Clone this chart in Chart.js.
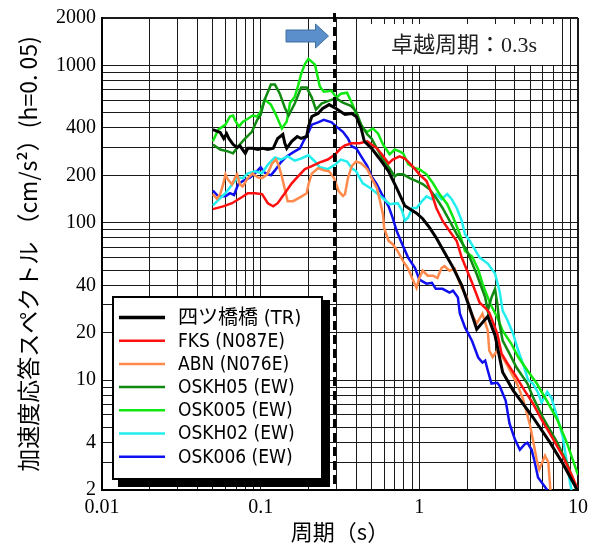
<!DOCTYPE html>
<html><head><meta charset="utf-8">
<script src="https://cdn.jsdelivr.net/npm/chart.js@4.4.1/dist/chart.umd.min.js"></script>
<style>html,body{margin:0;padding:0;background:#fff;}#wrap{width:598px;height:550px;}</style>
</head><body><div id="wrap"><canvas id="c" width="598" height="550"></canvas></div>
<script>
// ---- tick values / labels ----
const xTickValues = [0.01,0.02,0.03,0.04,0.05,0.06,0.07,0.08,0.09,0.1,0.2,0.3,0.4,0.5,0.6,0.7,0.8,0.9,1,2,3,4,5,6,7,8,9,10];
const xTickLabels = [0.01,0.1,1,10];
const yTickValues = [2,3,4,5,6,7,8,9,10,20,30,40,50,60,70,80,90,100,200,300,400,500,600,700,800,900,1000,2000];
const yTickLabels = [2,4,10,20,40,100,200,400,1000,2000];

// ---- series names / colours ----
const seriesNames = ['四ツ橋橋 (TR)','FKS (N087E)','ABN (N076E)','OSKH05 (EW)','OSK005 (EW)','OSKH02 (EW)','OSK006 (EW)'];
const seriesColors = ['#000000','#ff1010','#ff8a4c','#118a11','#11e811','#22eeee','#1010ee'];

// ---- series data: [period (s), Sa (cm/s^2)] ----
const seriesTR = [[0.05,390],[0.0556,375],[0.0585,343],[0.061,368],[0.063,343],[0.067,315],[0.071,300],[0.074,308],[0.08,276],[0.083,297],[0.089,297],[0.096,292],[0.103,297],[0.111,292],[0.12,297],[0.128,343],[0.138,364],[0.142,320],[0.146,297],[0.157,329],[0.17,353],[0.18,343],[0.195,353],[0.2,408],[0.21,473],[0.23,495],[0.245,530],[0.27,563],[0.3,530],[0.34,487],[0.375,495],[0.4,473],[0.43,397],[0.45,329],[0.5,297],[0.56,256],[0.64,212],[0.72,166],[0.81,128],[0.96,115],[1.05,106],[1.16,93],[1.28,80],[1.4,68],[1.63,52],[1.85,40],[2.08,28.6],[2.3,21],[2.7,25.4],[3.0,19.2],[3.2,14],[3.35,11.2],[3.9,8.6],[5.2,5.8],[6.7,3.97],[8.0,2.96],[9.9,2.0]];
const seriesFKS = [[0.05,122],[0.058,127],[0.066,133],[0.076,145],[0.083,154],[0.092,154],[0.102,152],[0.111,133],[0.12,127],[0.128,133],[0.142,154],[0.157,178],[0.172,197],[0.19,219],[0.21,229],[0.236,242],[0.265,252],[0.295,272],[0.32,297],[0.34,310],[0.375,320],[0.42,320],[0.47,329],[0.5,314],[0.54,297],[0.58,272],[0.64,238],[0.68,252],[0.75,264],[0.81,256],[0.87,238],[0.94,219],[1.0,203],[1.11,184],[1.2,152],[1.28,124],[1.4,103],[1.55,88.5],[1.72,76.5],[1.85,60],[2.15,41.5],[2.4,31],[2.6,28.8],[2.76,26.8],[3.1,19.7],[3.3,14.7],[3.6,12.7],[4.1,10.4],[4.6,8.6],[5.2,7.1],[5.9,5.6],[6.8,4.4],[8.0,3.3],[9.2,2.45],[10,2.0]];
const seriesABN = [[0.05,152],[0.053,142],[0.0556,152],[0.058,175],[0.06,203],[0.062,189],[0.066,175],[0.069,194],[0.071,203],[0.074,175],[0.077,170],[0.083,192],[0.089,205],[0.096,194],[0.102,192],[0.11,203],[0.118,238],[0.125,252],[0.13,230],[0.136,197],[0.142,163],[0.148,137],[0.16,137],[0.177,145],[0.195,154],[0.2,175],[0.21,205],[0.23,222],[0.25,215],[0.27,212],[0.29,192],[0.31,159],[0.33,148],[0.34,152],[0.355,192],[0.375,229],[0.4,245],[0.43,238],[0.47,219],[0.5,192],[0.54,166],[0.56,143],[0.59,113],[0.6,93],[0.64,76.5],[0.68,73],[0.73,66],[0.79,57],[0.85,51],[0.9,44.5],[0.96,38.5],[1.0,44.5],[1.05,49.5],[1.13,46],[1.22,46],[1.3,44.5],[1.38,51.5],[1.44,53],[1.55,49.5],[1.67,51],[1.75,44.5],[1.85,38.5],[2.0,33.5],[2.08,27.6],[2.3,22.9],[2.5,26.4],[2.7,20.6],[2.76,15.4],[2.9,14],[3.1,15.4],[3.3,14.3],[3.6,12.3],[4.1,9.6],[4.5,7.6],[5.0,5.1],[5.5,3.1],[5.7,2.7],[6.2,3.3],[6.5,3.0],[6.7,2.0]];
const seriesOSKH05 = [[0.05,314],[0.0556,292],[0.062,284],[0.067,276],[0.072,305],[0.08,343],[0.088,378],[0.095,450],[0.1,484],[0.106,605],[0.116,755],[0.123,755],[0.132,661],[0.142,538],[0.15,480],[0.164,572],[0.18,722],[0.195,722],[0.21,624],[0.223,524],[0.242,572],[0.27,597],[0.3,616],[0.33,580],[0.37,554],[0.4,508],[0.43,420],[0.47,364],[0.5,343],[0.54,297],[0.59,252],[0.65,221],[0.7,197],[0.73,203],[0.79,203],[0.87,192],[0.96,184],[1.05,176],[1.16,163],[1.28,143],[1.4,124],[1.55,103],[1.72,84.5],[2.0,66],[2.3,47],[2.6,33.5],[2.7,27.6],[2.85,33.5],[3.0,38],[3.1,30.5],[3.2,22.8],[3.35,17.8],[3.7,14.7],[4.1,12],[4.8,9.5],[5.2,7.8],[6.0,5.8],[7.4,4.0],[8.5,2.98],[9.8,2.0]];
const seriesOSK005 = [[0.05,329],[0.054,390],[0.06,420],[0.064,473],[0.067,480],[0.069,447],[0.073,408],[0.077,437],[0.083,458],[0.089,480],[0.095,473],[0.1,508],[0.106,605],[0.116,563],[0.125,484],[0.136,397],[0.146,440],[0.153,576],[0.164,632],[0.172,741],[0.18,883],[0.19,1020],[0.2,1100],[0.22,1010],[0.236,733],[0.25,680],[0.28,690],[0.3,624],[0.32,660],[0.35,670],[0.38,563],[0.41,458],[0.44,397],[0.47,378],[0.51,397],[0.55,368],[0.59,314],[0.65,272],[0.7,292],[0.75,284],[0.79,276],[0.85,236],[0.94,222],[1.0,219],[1.11,203],[1.22,178],[1.34,152],[1.5,131],[1.64,107],[1.8,84.5],[1.94,66],[2.15,61],[2.35,50.5],[2.5,41],[2.8,30.5],[3.1,25],[3.35,20.6],[3.8,17],[4.2,14],[4.8,11.5],[5.5,9.5],[6.3,7.5],[7.4,5.6],[8.5,4.0],[10,2.5]];
const seriesOSKH02 = [[0.05,129],[0.054,139],[0.06,154],[0.066,175],[0.072,194],[0.077,192],[0.083,206],[0.092,212],[0.102,206],[0.111,234],[0.123,260],[0.134,252],[0.148,264],[0.164,248],[0.18,256],[0.2,268],[0.22,245],[0.236,225],[0.265,219],[0.295,234],[0.32,252],[0.35,245],[0.375,222],[0.4,212],[0.44,178],[0.49,166],[0.54,154],[0.59,143],[0.65,131],[0.73,133],[0.78,119],[0.81,103],[0.85,108],[0.9,124],[0.96,124],[1.04,137],[1.11,147],[1.2,141],[1.28,152],[1.38,141],[1.5,152],[1.6,141],[1.72,124],[1.85,103],[1.94,84.5],[2.08,76.5],[2.4,60],[2.7,55],[3.0,47.5],[3.2,37],[3.35,27.6],[3.6,23.9],[3.9,19.7],[4.2,15.4],[4.5,12.7],[4.85,10],[5.2,9.5],[5.6,8.3],[5.9,7.2],[6.4,8.4],[6.8,7.7],[7.4,5.8],[8.0,4.4],[8.5,3.0],[8.9,2.25],[9.1,2.0]];
const seriesOSK006 = [[0.05,160],[0.054,147],[0.06,147],[0.064,154],[0.068,150],[0.072,175],[0.077,184],[0.086,194],[0.092,206],[0.1,225],[0.106,208],[0.116,200],[0.123,215],[0.134,242],[0.146,264],[0.16,280],[0.177,297],[0.187,333],[0.2,374],[0.21,420],[0.23,434],[0.25,450],[0.28,434],[0.3,408],[0.33,378],[0.355,343],[0.375,305],[0.4,297],[0.43,264],[0.47,229],[0.5,197],[0.54,175],[0.58,152],[0.64,127],[0.68,107],[0.72,88.5],[0.78,73],[0.85,60],[0.94,51.5],[1.0,43.5],[1.11,41],[1.2,41.5],[1.27,38],[1.4,38],[1.55,36],[1.63,37],[1.75,33.5],[1.8,26.5],[1.94,21.6],[2.15,17.7],[2.35,13.9],[2.5,12.9],[2.6,13.3],[2.7,11.5],[2.85,9.5],[3.1,9.6],[3.2,9.2],[3.5,7.4],[3.7,5.3],[4.0,4.2],[4.3,3.6],[4.6,3.9],[4.8,4.0],[5.1,3.6],[5.3,3.1],[5.6,2.4],[6.4,2.0]];

const predominantPeriod = 0.292; // position of dashed line (0.3 s)
const annotationText = '卓越周期：0.3s';

const allSeries = [seriesTR, seriesFKS, seriesABN, seriesOSKH05, seriesOSK005, seriesOSKH02, seriesOSK006];

const isIn = (arr, v) => arr.some(l => Math.abs(l - v) / l < 1e-6);

const datasets = allSeries.map((s, i) => ({
  label: seriesNames[i],
  data: s.map(p => ({x: p[0], y: p[1]})),
  borderColor: seriesColors[i],
  backgroundColor: seriesColors[i],
  borderWidth: i === 0 ? 3 : 2.5,
  pointRadius: 0,
  tension: 0,
  fill: false
}));

const overlayPlugin = {
  id: 'overlay',
  beforeDatasetsDraw(chart) {
    const ctx = chart.ctx, a = chart.chartArea;
    // white annotation box
    ctx.save();
    ctx.fillStyle = '#fff';
    ctx.fillRect(a.left + 260, a.top + 6, 198, 41);
    ctx.fillStyle = '#222';
    ctx.font = '22px "Liberation Serif", "Noto Sans CJK JP", serif';
    ctx.textAlign = 'center';
    ctx.textBaseline = 'middle';
    ctx.fillText(annotationText, a.left + 362, a.top + 28);
    ctx.restore();
  },
  afterDatasetsDraw(chart) {
    const ctx = chart.ctx, a = chart.chartArea;
    const xs = chart.scales.x;
    const px = xs.getPixelForValue(predominantPeriod);
    // dashed line
    ctx.save();
    ctx.strokeStyle = '#000';
    ctx.lineWidth = 3;
    ctx.setLineDash([9, 5]);
    ctx.beginPath();
    ctx.moveTo(px, a.top - 5);
    ctx.lineTo(px, a.bottom);
    ctx.stroke();
    ctx.restore();
    // arrow
    ctx.save();
    const tip = px - 6, cy = a.top + 18;
    ctx.beginPath();
    ctx.moveTo(a.left + 184, cy - 6);
    ctx.lineTo(tip - 13, cy - 6);
    ctx.lineTo(tip - 13, cy - 12);
    ctx.lineTo(tip, cy);
    ctx.lineTo(tip - 13, cy + 12);
    ctx.lineTo(tip - 13, cy + 6);
    ctx.lineTo(a.left + 184, cy + 6);
    ctx.closePath();
    ctx.fillStyle = '#5b8fcb';
    ctx.fill();
    ctx.strokeStyle = '#3f6f9f';
    ctx.lineWidth = 1;
    ctx.stroke();
    ctx.restore();
  },
  afterDraw(chart) {
    const ctx = chart.ctx, a = chart.chartArea;
    const x = a.left + 11, y = a.top + 279, w = 209, h = 182;
    ctx.save();
    ctx.fillStyle = '#000';
    ctx.fillRect(x + 5, y + 3, w + 3, h + 5);
    ctx.fillStyle = '#fff';
    ctx.fillRect(x, y, w, h);
    ctx.strokeStyle = '#000';
    ctx.lineWidth = 2;
    ctx.strokeRect(x, y, w, h);
    ctx.textBaseline = 'middle';
    ctx.textAlign = 'left';
    chart.data.datasets.forEach((d, i) => {
      const ry = y + 20.5 + i * 23.2;
      ctx.strokeStyle = d.borderColor;
      ctx.lineWidth = i === 0 ? 3.5 : 2.5;
      ctx.beginPath();
      ctx.moveTo(x + 6, ry);
      ctx.lineTo(x + 52, ry);
      ctx.stroke();
      ctx.fillStyle = '#000';
      ctx.font = (i === 0 ? '20px' : '19px') + ' "DejaVu Sans Condensed", "Liberation Sans Narrow", "Noto Sans CJK JP", sans-serif';
      ctx.fillText(d.label, x + 65, ry + 1);
    });
    ctx.restore();
  }
};

new Chart(document.getElementById('c'), {
  type: 'line',
  data: { datasets },
  options: {
    responsive: false,
    animation: false,
    devicePixelRatio: 1,
    layout: { padding: { top: 16, right: 20, left: 0, bottom: 0 } },
    plugins: { legend: { display: false }, tooltip: { enabled: false } },
    scales: {
      x: {
        type: 'logarithmic', min: 0.01, max: 10, position: 'bottom',
        afterBuildTicks: s => { s.ticks = xTickValues.map(v => ({ value: v })); },
        afterFit: s => { s.height = 60; },
        ticks: {
          autoSkip: false, maxRotation: 0, padding: 6, color: '#000',
          font: { family: '"Liberation Serif", serif', size: 20 },
          callback: v => isIn(xTickLabels, v) ? String(v) : ''
        },
        grid: {
          drawTicks: false, color: '#1a1a1a',
          lineWidth: c => (c.tick && (c.tick.value === 0.01 || c.tick.value === 10)) ? 2 : 1
        },
        border: { display: true, color: '#000', width: 2 },
        title: {
          display: true, text: '周期（s）', color: '#000',
          font: { family: '"Noto Sans CJK JP", sans-serif', size: 22 },
          padding: { top: 0, bottom: 5 }
        }
      },
      y: {
        type: 'logarithmic', min: 2, max: 2000,
        afterBuildTicks: s => { s.ticks = yTickValues.map(v => ({ value: v })); },
        afterFit: s => { s.width = 102; },
        ticks: {
          autoSkip: false, padding: 6, color: '#000',
          font: { family: '"Liberation Serif", serif', size: 20 },
          callback: v => isIn(yTickLabels, v) ? String(v) : ''
        },
        grid: {
          drawTicks: false, color: '#1a1a1a',
          lineWidth: c => (c.tick && (c.tick.value === 2 || c.tick.value === 2000)) ? 2 : 1
        },
        border: { display: true, color: '#000', width: 2 },
        title: {
          display: true, text: '加速度応答スペクトル （cm/s²）(h=0. 05)', color: '#000',
          font: { family: '"Noto Sans CJK JP", sans-serif', size: 23 },
          padding: { top: 14, bottom: 0 }
        }
      }
    }
  },
  plugins: [overlayPlugin]
});
</script>
</body></html>
